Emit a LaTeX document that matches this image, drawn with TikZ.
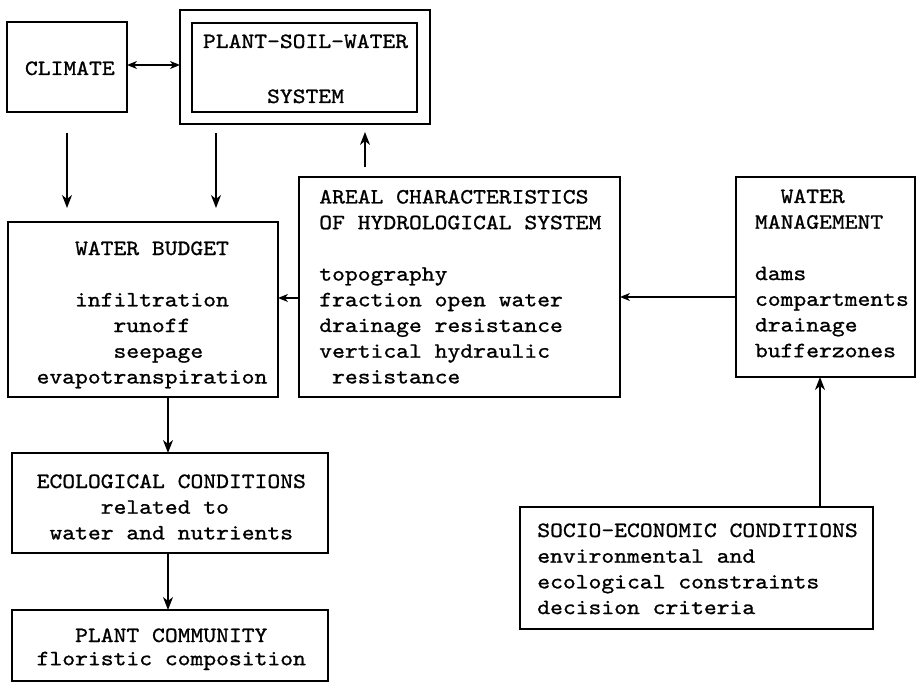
\documentclass[tikz,border=0pt]{standalone}
\usepackage{fontspec}
\newfontfamily\tw[FakeStretch=1.12,FakeBold=1.0]{lmmono10-regular.otf}
\usetikzlibrary{arrows.meta}
\tikzset{
  box/.style={draw, line width=1.6pt, inner sep=0pt, outer sep=0pt},
  txt/.style={anchor=base west, inner sep=0pt, outer sep=0pt, font={\tw\fontsize{21.8}{25.7}\selectfont}},
  varr/.style={line width=1.5pt, -{Stealth[length=13pt,width=10pt,inset=4pt]}},
  harr/.style={line width=1.5pt, -{Stealth[length=10pt,width=8pt,inset=3pt]}},
  darr/.style={line width=1.5pt, {Stealth[length=10pt,width=8pt,inset=3pt]}-{Stealth[length=10pt,width=8pt,inset=3pt]}}
}
\begin{document}
\begin{tikzpicture}[x=1pt,y=-1pt]
\useasboundingbox (0,0) rectangle (916,682);
% boxes
\node[box, minimum width=120pt, minimum height=90pt] (clim) at (67,67) {};
\node[box, minimum width=250pt, minimum height=114pt] (pswo) at (305,67) {};
\node[box, minimum width=225pt, minimum height=89pt] (pswi) at (304.5,67.5) {};
\node[box, minimum width=270pt, minimum height=175pt] (wb) at (143,309.5) {};
\node[box, minimum width=321pt, minimum height=220pt] (areal) at (459.5,287) {};
\node[box, minimum width=179pt, minimum height=200pt] (wm) at (825.5,277) {};
\node[box, minimum width=316pt, minimum height=100pt] (eco) at (170,503) {};
\node[box, minimum width=316pt, minimum height=71pt] (pc) at (170,645.5) {};
\node[box, minimum width=353pt, minimum height=122pt] (soc) at (696.5,568) {};
% texts
\node[txt] (tclim) at (25,75) {\begin{tabular}[t]{@{}l@{}}CLIMATE\end{tabular}};
\node[txt] (tpsw) at (203,48) {\begin{tabular}[t]{@{}l@{}}PLANT-SOIL-WATER\\[29.3pt] \phantom{xxxxx}SYSTEM\end{tabular}};
\node[txt] (twb) at (36.6,255) {\begin{tabular}[t]{@{}l@{}}\phantom{xxx}WATER BUDGET\\ \\ \phantom{xxx}infiltration\\ \phantom{xxxxxx}runoff\\ \phantom{xxxxxx}seepage\\ evapotranspiration\end{tabular}};
\node[txt] (tareal) at (319.3,203.5) {\begin{tabular}[t]{@{}l@{}}AREAL CHARACTERISTICS\\ OF HYDROLOGICAL SYSTEM\\ \\ topography\\ fraction open water\\ drainage resistance\\ vertical hydraulic\\ \phantom{x}resistance\end{tabular}};
\node[txt] (twm) at (755,203) {\begin{tabular}[t]{@{}l@{}}\phantom{xx}WATER\\ MANAGEMENT\\ \\ dams\\ compartments\\ drainage\\ bufferzones\end{tabular}};
\node[txt] (teco) at (36.7,488) {\begin{tabular}[t]{@{}l@{}}ECOLOGICAL CONDITIONS\\ \phantom{xxxxx}related to\\ \phantom{x}water and nutrients\end{tabular}};
\node[txt] (tpc) at (36.7,642) {\begin{tabular}[t]{@{}l@{}}\phantom{xxx}PLANT COMMUNITY\\[-2.5pt] floristic composition\end{tabular}};
\node[txt] (tsoc) at (537.3,537) {\begin{tabular}[t]{@{}l@{}}SOCIO-ECONOMIC CONDITIONS\\ environmental and\\ ecological constraints\\ decision criteria\end{tabular}};
% helper coordinates
\coordinate (p0) at ([yshift=2pt]clim.east);
\coordinate (p1) at ([xshift=36pt]pswo.south west);
\coordinate (p2) at ([xshift=66pt]areal.north west);
\coordinate (p3) at ([yshift=-11pt]areal.west);
\coordinate (p4) at ([yshift=-20pt]wm.west);
\coordinate (p5) at ([xshift=300pt]soc.north west);
\coordinate (p6) at ([xshift=160pt]wb.south west);
\coordinate (p7) at (p6 |- eco.south);
% connectors
\draw[darr] (p0) -- (p0 -| pswo.west);
\draw[varr, shorten <=21pt, shorten >=14pt] (clim.south) -- (clim.south |- wb.north);
\draw[varr, shorten <=9pt, shorten >=14pt] (p1) -- (p1 |- wb.north);
\draw[varr, shorten <=10pt, shorten >=8pt] (p2) -- (p2 |- pswo.south);
\draw[harr] (p3) -- (p3 -| wb.east);
\draw[harr] (p4) -- (p4 -| areal.east);
\draw[varr] (p5) -- (p5 |- wm.south);
\draw[varr] (p6) -- (p6 |- eco.north);
\draw[varr] (p7) -- (p7 |- pc.north);
\end{tikzpicture}
\end{document}
